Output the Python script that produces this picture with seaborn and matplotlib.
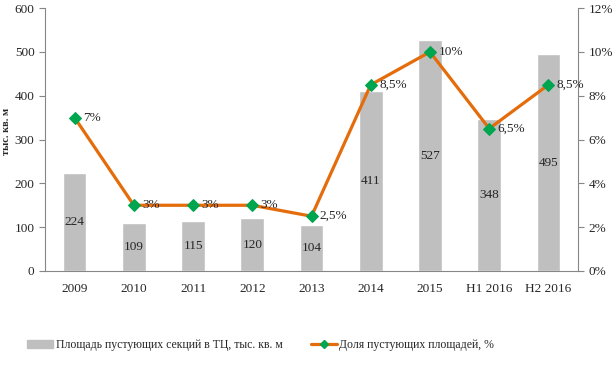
import numpy as np
import pandas as pd
import matplotlib
matplotlib.use("Agg")
import matplotlib.pyplot as plt
import seaborn as sns
from matplotlib.patches import Patch
from matplotlib.lines import Line2D

# Data
categories = ["2009", "2010", "2011", "2012", "2013", "2014", "2015", "H1 2016", "H2 2016"]
area_vals = [224, 109, 115, 120, 104, 411, 527, 348, 495]
share_vals = [7, 3, 3, 3, 2.5, 8.5, 10, 6.5, 8.5]
share_labels = ["7%", "3%", "3%", "3%", "2,5%", "8,5%", "10%", "6,5%", "8,5%"]

bar_name = "Площадь пустующих секций в ТЦ, тыс. кв. м"
line_name = "Доля пустующих площадей, %"

sns.set_style("white")
plt.rcParams['font.family'] = ['Liberation Serif', 'DejaVu Serif']

BAR_C = "#BFBFBF"
LINE_C = "#E46C0A"
MARK_C = "#00A550"
AXIS_C = "#868686"
TXT_C = "#262626"
FS = 9.5

df = pd.DataFrame({"cat": categories, "area": area_vals, "share": share_vals})

fig = plt.figure(figsize=(6.13, 3.68), dpi=100)
ax = fig.add_axes([0.0734, 0.2636, 0.8696, 0.7144])

sns.barplot(data=df, x="cat", y="area", color=BAR_C, width=0.4, saturation=1, ax=ax)
ax.set_ylim(0, 600)
ax.set_xlim(-0.5, len(categories) - 0.5)
ax.set_yticks(range(0, 601, 100))
ax.set_xlabel("")
ax.set_ylabel("тыс. кв. м", fontsize=7.5, fontweight="bold", color=TXT_C)
ax.yaxis.set_label_coords(-0.064, 0.53)

for i, v in enumerate(area_vals):
    ax.text(i, v / 2, str(v), ha="center", va="center", fontsize=FS, color=TXT_C)

ax2 = ax.twinx()
sns.lineplot(x=np.arange(len(categories)), y=share_vals, color=LINE_C, linewidth=2.3,
             marker="D", markersize=6, markerfacecolor=MARK_C, markeredgecolor=MARK_C,
             sort=False, ax=ax2)
ax2.set_ylim(0, 12)
ax2.set_yticks(range(0, 13, 2))
ax2.set_yticklabels([f"{t}%" for t in range(0, 13, 2)])
for i, (v, lab) in enumerate(zip(share_vals, share_labels)):
    ax2.annotate(lab, (i, v), xytext=(6, 0), textcoords="offset points",
                 ha="left", va="center", fontsize=FS, color=TXT_C)

# axes styling
for a in (ax, ax2):
    a.spines["top"].set_visible(False)
    a.spines["left"].set_visible(a is ax)
    a.spines["right"].set_visible(a is ax2)
    a.spines["bottom"].set_visible(a is ax)
    for s in a.spines.values():
        s.set_color(AXIS_C)
        s.set_linewidth(0.8)
    a.tick_params(axis="y", colors=AXIS_C, labelcolor=TXT_C, labelsize=FS, length=4, width=0.8)
    a.grid(False)

ax.set_xticks(np.arange(len(categories)))
ax.set_xticklabels(categories)
ax.set_xticks(np.arange(-0.5, len(categories), 1), minor=True)
ax.tick_params(axis="x", which="major", length=0, labelsize=FS, labelcolor=TXT_C, pad=9)
ax.tick_params(axis="x", which="minor", length=4, width=0.8, color=AXIS_C)

handles = [Patch(facecolor=BAR_C, edgecolor=BAR_C),
           Line2D([], [], color=LINE_C, linewidth=2.3, marker="D", markersize=4,
                  markerfacecolor=MARK_C, markeredgecolor=MARK_C)]
fig.legend(handles, [bar_name, line_name], loc="center", bbox_to_anchor=(0.425, 0.062),
           ncol=2, frameon=False, fontsize=8.5, columnspacing=2.4, handlelength=2.2,
           handletextpad=0.2, labelcolor=TXT_C)

fig.savefig("out.png", dpi=100)
